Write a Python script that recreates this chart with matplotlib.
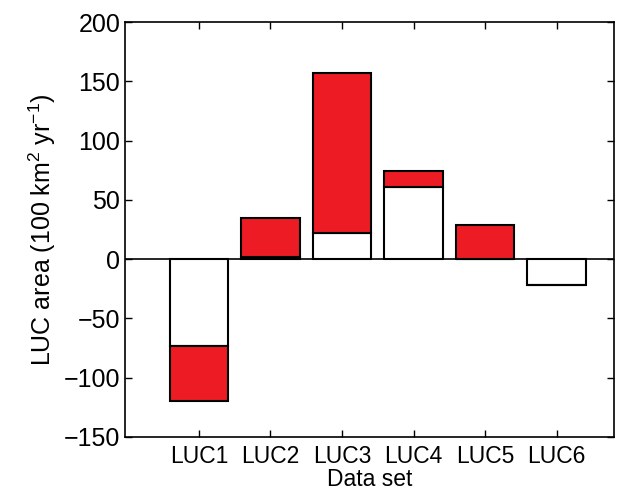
import numpy as np
import matplotlib.pyplot as plt

plt.rcParams['font.family'] = ['Liberation Sans', 'DejaVu Sans']
plt.rcParams['mathtext.fontset'] = 'custom'
plt.rcParams['mathtext.rm'] = 'Liberation Sans'
plt.rcParams['mathtext.it'] = 'Liberation Sans'

labels = ['LUC1', 'LUC2', 'LUC3', 'LUC4', 'LUC5', 'LUC6']
white_part = [-73, 2, 22, 61, 0, -22]
totals = [-120, 35, 157, 74, 29, -22]

fig = plt.figure(figsize=(6.29, 5.0), dpi=100)
ax = fig.add_axes([0.199, 0.126, 0.777, 0.83])
x = np.arange(1, len(labels) + 1)
red = [t - w for t, w in zip(totals, white_part)]
ax.bar(x, white_part, width=0.82, color='white', edgecolor='black', linewidth=1.5)
ax.bar(x, red, bottom=white_part, width=0.82, color='#ed1c24', edgecolor='black', linewidth=1.5)
ax.axhline(0, color='black', linewidth=1.2)

ax.set_xlim(-0.03, 6.8)
ax.set_ylim(-150, 200)
ax.set_xticks(x)
ax.set_xticklabels(labels, fontsize=16.5)
ax.set_yticks(range(-150, 201, 50))
ax.set_yticklabels(['\u2212150', '\u2212100', '\u221250', '0', '50', '100', '150', '200'], fontsize=18)
ax.tick_params(direction='in', top=True, right=True, length=5, width=1)
ax.tick_params(axis='x', pad=6)
for s in ax.spines.values():
    s.set_linewidth(1.2)
ax.set_xlabel('Data set', fontsize=16.5, labelpad=0)
ax.set_ylabel('LUC area (100 km$^2$ yr$^{-1}$)', fontsize=18)

fig.savefig('out.png', dpi=100)
